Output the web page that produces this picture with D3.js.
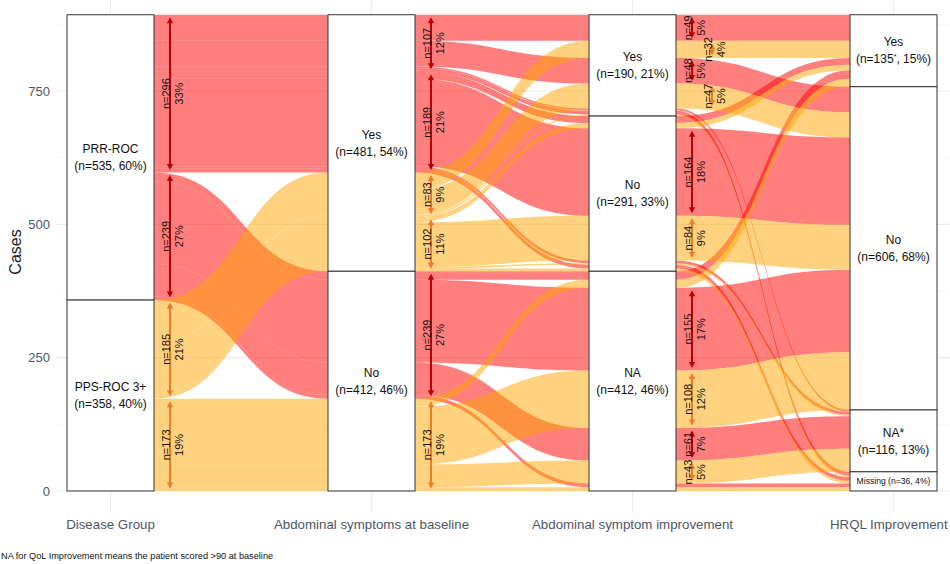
<!DOCTYPE html>
<html>
<head>
<meta charset="utf-8">
<script src="https://cdn.jsdelivr.net/npm/d3@7"></script>
<style>
  body { margin: 0; background: #fff; }
  svg { display: block; font-family: "Liberation Sans", Arial, sans-serif; }
</style>
</head>
<body>
<svg id="chart" width="950" height="564"></svg>
<script>
// ---- data -------------------------------------------------------------
const axisTitles = ["Disease Group", "Abdominal symptoms at baseline",
                    "Abdominal symptom improvement", "HRQL Improvement"];
const diseaseLevels = ["PRR-ROC", "PPS-ROC 3+"];
const baselineLevels = ["Yes", "No"];
const improvementLevels = ["Yes", "No", "NA"];
const hrqlLevels = ["Yes", "No", "NA*", "Missing"];
const hrqlCountMarks = ["*", "", "", ""];

// one entry per patient path (disease, baseline, improvement, HRQL, count)
const pathDisease     = ["PRR-ROC","PPS-ROC 3+","PRR-ROC","PPS-ROC 3+","PRR-ROC","PPS-ROC 3+","PRR-ROC","PPS-ROC 3+",
                         "PRR-ROC","PPS-ROC 3+","PRR-ROC","PPS-ROC 3+","PRR-ROC","PPS-ROC 3+","PRR-ROC","PPS-ROC 3+",
                         "PRR-ROC","PPS-ROC 3+","PRR-ROC","PPS-ROC 3+","PRR-ROC","PPS-ROC 3+","PRR-ROC","PPS-ROC 3+"];
const pathBaseline    = ["Yes","Yes","Yes","Yes","Yes","Yes","Yes","Yes",
                         "Yes","Yes","Yes","Yes","Yes","Yes","Yes","Yes",
                         "No","No","No","No","No","No","No","No"];
const pathImprovement = ["Yes","Yes","Yes","Yes","Yes","Yes","Yes","Yes",
                         "No","No","No","No","No","No","No","No",
                         "NA","NA","NA","NA","NA","NA","NA","NA"];
const pathHrql        = ["Yes","Yes","No","No","NA*","NA*","Missing","Missing",
                         "Yes","Yes","No","No","NA*","NA*","Missing","Missing",
                         "Yes","Yes","No","No","NA*","NA*","Missing","Missing"];
const pathCount       = [49, 32, 48, 47, 3, 1, 7, 3,
                         13, 10, 164, 84, 5, 3, 7, 5,
                         16, 15, 155, 108, 61, 43, 7, 7];

const yTicks = [0, 250, 500, 750];
const yMinorTicks = [125, 375, 625, 875];
const footnote = "NA for QoL Improvement means the patient scored >90 at baseline";

// ---- setup ------------------------------------------------------------
const svg = d3.select("#chart");
const W = 950;
const levels = [diseaseLevels, baselineLevels, improvementLevels, hrqlLevels];
const total = d3.sum(pathCount);

const x = d3.scalePoint().domain(d3.range(4)).range([110.5, 893.5]);
const boxW = x.step() / 3;
const y = d3.scaleLinear().domain([0, 750]).range([491, 91]);
const panel = { left: 57, right: 950, top: 0, bottom: 513 };

const fillColor = d3.scaleOrdinal().domain(diseaseLevels).range(["#FF0000", "#FFA500"]);
const arrowColor = d3.scaleOrdinal().domain(diseaseLevels).range(["#C00000", "#EF7A2B"]);

const alluvia = pathCount.map((n, i) => ({
  keys: [pathDisease[i], pathBaseline[i], pathImprovement[i], pathHrql[i]],
  n, pos: []
}));
const rank = (a, k) => levels[a].indexOf(k);

// lode order at each axis: own stratum first, then zig-zag over the other axes
const sortOrder = [[0, 1, 2, 3], [1, 0, 2, 3], [2, 3, 1, 0], [3, 2, 1, 0]];
sortOrder.forEach((ord, a) => {
  const sorted = alluvia.slice().sort((p, q) => {
    for (const k of ord) {
      const d = rank(k, p.keys[k]) - rank(k, q.keys[k]);
      if (d) return d;
    }
    return 0;
  });
  let cum = total;
  sorted.forEach(al => {
    al.pos[a] = { top: cum, bottom: cum - al.n };
    cum -= al.n;
  });
});

// ---- grid -------------------------------------------------------------
const grid = svg.append("g");
grid.selectAll(".minor").data(yMinorTicks).join("line")
  .attr("x1", panel.left).attr("x2", panel.right)
  .attr("y1", d => y(d)).attr("y2", d => y(d))
  .attr("stroke", "#F2F2F2").attr("stroke-width", 0.6);
grid.selectAll(".major").data(yTicks).join("line")
  .attr("x1", panel.left).attr("x2", panel.right)
  .attr("y1", d => y(d)).attr("y2", d => y(d))
  .attr("stroke", "#EBEBEB").attr("stroke-width", 1.1);
grid.selectAll(".vmajor").data(d3.range(4)).join("line")
  .attr("x1", d => x(d)).attr("x2", d => x(d))
  .attr("y1", panel.top).attr("y2", panel.bottom)
  .attr("stroke", "#EBEBEB").attr("stroke-width", 1.1);

// ---- flows ------------------------------------------------------------
function flowPath(al, a) {
  const x0 = x(a) + boxW / 2, x1 = x(a + 1) - boxW / 2, xm = (x0 + x1) / 2;
  const t0 = y(al.pos[a].top), b0 = y(al.pos[a].bottom);
  const t1 = y(al.pos[a + 1].top), b1 = y(al.pos[a + 1].bottom);
  return `M${x0},${t0}C${xm},${t0} ${xm},${t1} ${x1},${t1}` +
         `L${x1},${b1}C${xm},${b1} ${xm},${b0} ${x0},${b0}Z`;
}
const drawOrder = alluvia.slice().sort((p, q) => rank(0, p.keys[0]) - rank(0, q.keys[0]));
const flows = svg.append("g");
drawOrder.forEach(al => {
  for (let a = 0; a < 3; a++) {
    flows.append("path")
      .attr("d", flowPath(al, a))
      .attr("fill", fillColor(al.keys[0]))
      .attr("fill-opacity", 0.5);
  }
});

// ---- strata -----------------------------------------------------------
const strataG = svg.append("g");
levels.forEach((lv, a) => {
  let cum = total;
  lv.forEach((name, li) => {
    const n = d3.sum(alluvia.filter(al => al.keys[a] === name), al => al.n);
    const top = cum, bottom = cum - n;
    cum -= n;
    const y0 = y(top), y1 = y(bottom);
    strataG.append("rect")
      .attr("x", x(a) - boxW / 2).attr("y", y0)
      .attr("width", boxW).attr("height", y1 - y0)
      .attr("fill", "#fff").attr("stroke", "#333").attr("stroke-width", 1);
    const pct = Math.round(n / total * 100);
    const cy = (y0 + y1) / 2;
    if (a === 3 && name === "Missing") {
      strataG.append("text")
        .attr("x", x(a)).attr("y", cy).attr("dy", "0.35em")
        .attr("text-anchor", "middle").attr("font-size", 8.6).attr("fill", "#111")
        .text(`${name} (n=${n}, ${pct}%)`);
      return;
    }
    const t = strataG.append("text")
      .attr("text-anchor", "middle").attr("font-size", 12).attr("fill", "#111");
    t.append("tspan").attr("x", x(a)).attr("y", cy - 8.5).attr("dy", "0.35em").text(name);
    const l2 = t.append("tspan").attr("x", x(a)).attr("y", cy + 8.5).attr("dy", "0.35em");
    const mark = a === 3 ? hrqlCountMarks[li] : "";
    l2.append("tspan").text(`(n=${n}`);
    if (mark) l2.append("tspan").attr("font-size", 7).attr("dy", "-4").text(mark);
    l2.append("tspan").attr("dy", mark ? "4" : null).text(`, ${pct}%)`);
  });
});

// ---- size arrows on the flows leaving each axis ------------------------
const groupKeys = [[0, 1], [1, 0, 2], [2, 3, 0]];
const arrowsG = svg.append("g");
groupKeys.forEach((keys, a) => {
  const groups = d3.groups(alluvia, al => keys.map(k => al.keys[k]).join("|"))
    .map(([, als]) => ({
      stratum: als[0].keys[a],
      disease: als[0].keys[0],
      n: d3.sum(als, al => al.n),
      top: d3.max(als, al => al.pos[a].top),
      bottom: d3.min(als, al => al.pos[a].bottom)
    }))
    .filter(g => g.n >= 30)
    .sort((p, q) => q.top - p.top);
  let prev = null;
  groups.forEach(g => {
    let lane = 0;
    if (prev && prev.stratum === g.stratum && prev.n < 60 && g.n < 60 && prev.lane === 0) lane = 1;
    g.lane = lane;
    prev = g;
    const ax = x(a) + boxW / 2 + 16 + lane * 20;
    const yt = y(g.top) + 2.5, yb = y(g.bottom) - 2.5;
    const col = arrowColor(g.disease);
    const head = 6, hw = 3.2;
    arrowsG.append("line")
      .attr("x1", ax).attr("x2", ax).attr("y1", yt + head - 1).attr("y2", yb - head + 1)
      .attr("stroke", col).attr("stroke-width", 2);
    arrowsG.append("path")
      .attr("d", `M${ax},${yt}L${ax - hw},${yt + head}L${ax + hw},${yt + head}Z`).attr("fill", col);
    arrowsG.append("path")
      .attr("d", `M${ax},${yb}L${ax - hw},${yb - head}L${ax + hw},${yb - head}Z`).attr("fill", col);
    const cy = (yt + yb) / 2;
    arrowsG.append("text")
      .attr("transform", `translate(${ax},${cy}) rotate(-90)`)
      .attr("text-anchor", "middle").attr("font-size", 11).attr("fill", "#111")
      .text(`n=${g.n}`);
    arrowsG.append("text")
      .attr("transform", `translate(${ax + 12.5},${cy}) rotate(-90)`)
      .attr("text-anchor", "middle").attr("font-size", 11).attr("fill", "#111")
      .text(`${Math.round(g.n / total * 100)}%`);
  });
});

// ---- axes -------------------------------------------------------------
const axisCol = "#4F5666";
svg.append("g").selectAll("text").data(yTicks).join("text")
  .attr("x", 50).attr("y", d => y(d)).attr("dy", "0.35em")
  .attr("text-anchor", "end").attr("font-size", 13).attr("fill", axisCol)
  .text(d => d);
svg.append("g").selectAll("text").data(axisTitles).join("text")
  .attr("x", (d, i) => x(i)).attr("y", 524).attr("dy", "0.35em")
  .attr("text-anchor", "middle").attr("font-size", 13.3).attr("fill", axisCol)
  .text(d => d)
  .each(function () {
    // keep the outermost title inside the canvas
    const b = this.getBBox();
    const over = b.x + b.width - (W - 2);
    if (over > 0) d3.select(this).attr("x", +d3.select(this).attr("x") - over);
  });
svg.append("text")
  .attr("transform", `translate(21,252) rotate(-90)`)
  .attr("text-anchor", "middle").attr("font-size", 16).attr("fill", "#222")
  .text("Cases");
svg.append("text")
  .attr("x", 1).attr("y", 559).attr("font-size", 9.2).attr("fill", "#111")
  .text(footnote);
</script>
</body>
</html>
